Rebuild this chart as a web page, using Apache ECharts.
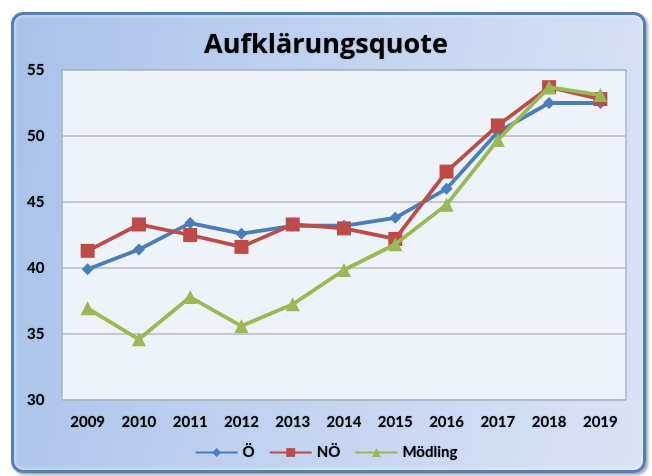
<!DOCTYPE html>
<html><head><meta charset="utf-8">
<script src="https://cdn.jsdelivr.net/npm/echarts@6/dist/echarts.min.js"></script>
<style>
html,body{margin:0;padding:0;background:#fff;width:652px;height:476px;overflow:hidden}
#frame{position:absolute;left:11px;top:12px;width:629px;height:455px;border:3px solid #4f81bd;border-radius:12px;
background:linear-gradient(100deg,#a9c1ea 0%,#c3d4f1 50%,#d7e3f6 100%);box-shadow:2px 2px 3px rgba(60,60,60,0.45), inset 0 0 4px rgba(255,255,255,0.8)}
#chart{position:absolute;left:0;top:0;width:652px;height:476px}
</style></head>
<body><div id="frame"></div><div id="chart"></div>
<script>
const categories = ['2009','2010','2011','2012','2013','2014','2015','2016','2017','2018','2019'];
const seriesNames = ['Ö','NÖ','Mödling'];
const valuesOe = [39.9, 41.4, 43.4, 42.6, 43.2, 43.2, 43.8, 46.0, 50.3, 52.5, 52.5];
const valuesNoe = [41.3, 43.3, 42.5, 41.6, 43.3, 43.0, 42.2, 47.3, 50.8, 53.7, 52.8];
const valuesMoedling = [36.95, 34.6, 37.8, 35.6, 37.25, 39.85, 41.8, 44.8, 49.7, 53.7, 53.1];
const yTicks = [30, 35, 40, 45, 50, 55];

const colors = ['#4a7ebb', '#be4b48', '#98b954'];
const symbols = ['diamond', 'rect', 'triangle'];
const symbolSizes = [12, 14, 14];
const data = [valuesOe, valuesNoe, valuesMoedling];
const font = 'Lato, "Open Sans", sans-serif';
const shadow = { textShadowColor: 'rgba(0,0,0,0.35)', textShadowBlur: 1.5 };

const chart = echarts.init(document.getElementById('chart'));
chart.setOption({
  animation: false,
  backgroundColor: 'transparent',
  title: {
    text: 'Aufklärungsquote', left: 'center', top: 27,
    textStyle: Object.assign({ fontFamily: '"Open Sans", sans-serif', fontWeight: 'bold', fontSize: 27, color: '#000' }, shadow)
  },
  legend: {
    bottom: 11, left: 'center', itemWidth: 42, itemHeight: 11, itemGap: 14,
    data: seriesNames,
    textStyle: Object.assign({ fontFamily: font, fontWeight: 'bold', fontSize: 15, color: '#000' }, shadow)
  },
  grid: { left: 62, top: 70, width: 564, height: 330, show: true, backgroundColor: '#eef3f9', borderColor: '#7f9fcf', borderWidth: 1 },
  xAxis: {
    type: 'category', data: categories, boundaryGap: true,
    axisLine: { show: false }, axisTick: { show: false },
    axisLabel: Object.assign({ margin: 15, fontFamily: font, fontWeight: 'bold', fontSize: 15, color: '#000' }, shadow)
  },
  yAxis: {
    type: 'value', min: yTicks[0], max: yTicks[yTicks.length - 1], interval: 5,
    axisLine: { show: false }, axisTick: { show: false },
    axisLabel: Object.assign({ margin: 35, align: 'left', fontFamily: font, fontWeight: 'bold', fontSize: 15, color: '#000' }, shadow),
    splitLine: { lineStyle: { color: '#b7b9bd', width: 1.5 } }
  },
  series: seriesNames.map((n, i) => ({
    name: n, type: 'line', data: data[i],
    symbol: symbols[i], symbolSize: symbolSizes[i],
    lineStyle: { color: colors[i], width: 3.8 },
    itemStyle: { color: colors[i] },
    z: 2 + i
  }))
});
</script></body></html>
